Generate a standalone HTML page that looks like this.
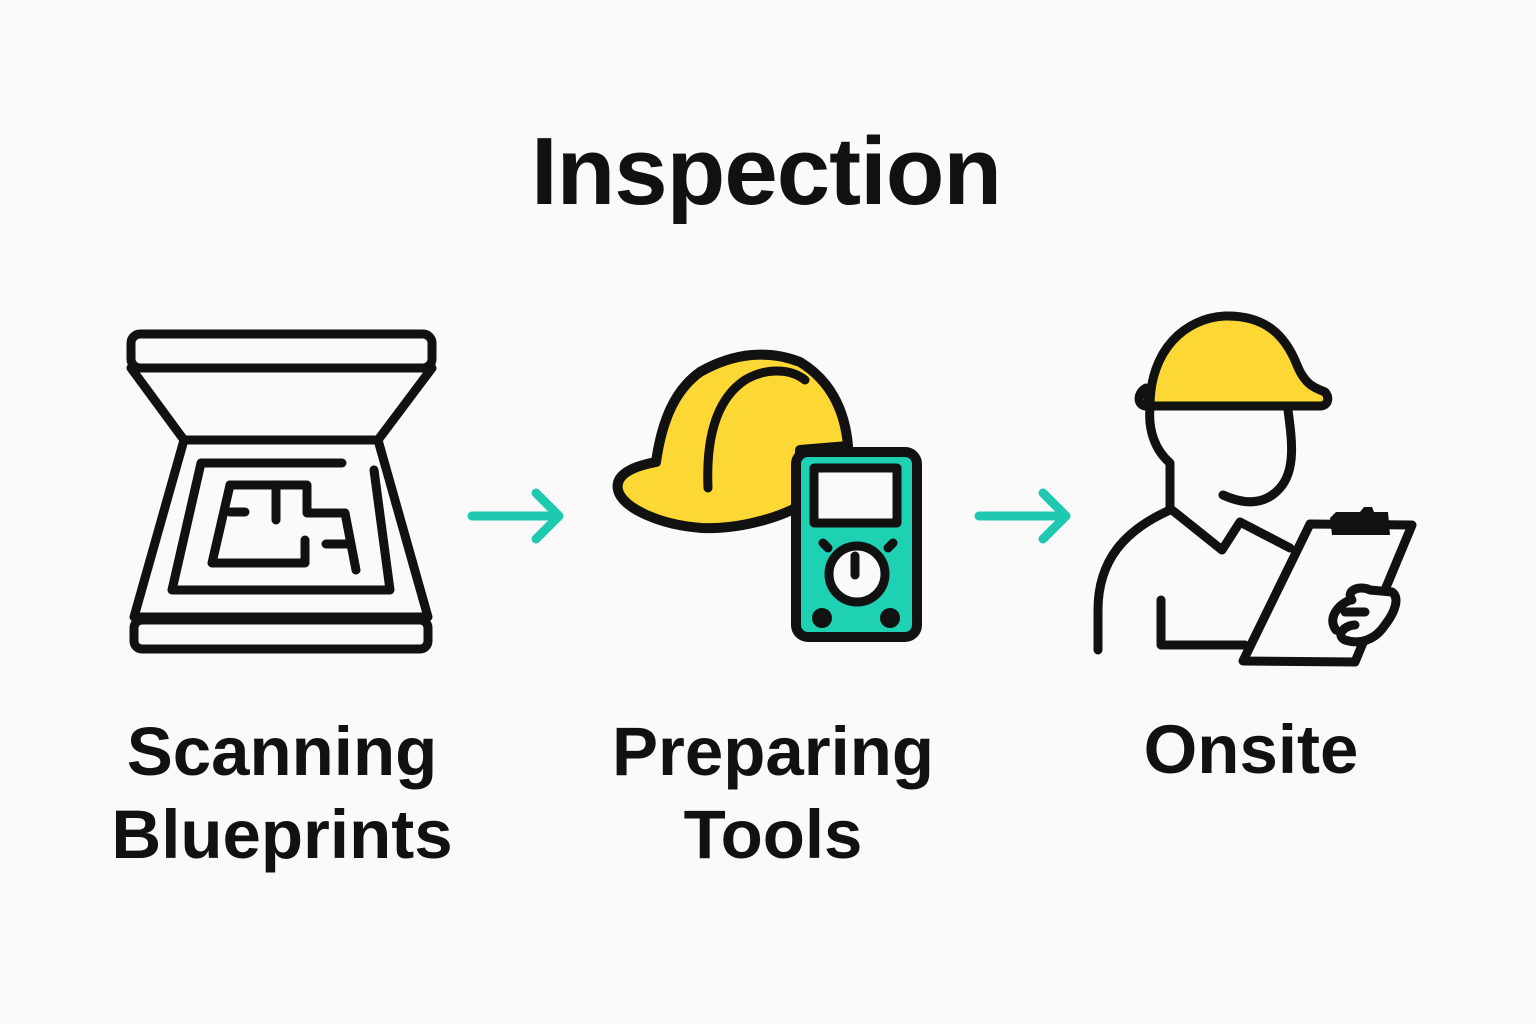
<!DOCTYPE html>
<html><head><meta charset="utf-8"><style>
html,body{margin:0;padding:0;background:#fafafa;}
svg{display:block}
text{font-family:"Liberation Sans",sans-serif;font-weight:bold;fill:#111;}
</style></head><body>
<svg width="1536" height="1024" viewBox="0 0 1536 1024" xmlns="http://www.w3.org/2000/svg">
<rect width="1536" height="1024" fill="#fafafa"/>
<text x="766" y="204" font-size="96" text-anchor="middle" letter-spacing="-1">Inspection</text>

<g fill="none" stroke="#111" stroke-width="9" stroke-linejoin="round" stroke-linecap="round">
 <!-- scanner -->
 <rect x="131" y="334" width="301" height="34" rx="9"/>
 <path d="M131 368 L184 440 L378 440 L432 368"/>
 <path d="M184 440 L134 617 L428 617 L378 440"/>
 <rect x="134" y="620" width="294" height="29" rx="8"/>
 <path d="M342 463 L201 463 L172 590 L390 590 L374 470"/>
 <path d="M230 485 L307 485 L307 513 L345 513 L356 570"/>
 <path d="M230 485 L212 563 L305 563 L305 540"/>
 <path d="M230 512 L245 512 M276 485 L276 520 M326 544 L348 544"/>
 <!-- arrows -->
 <g stroke="#1ec9b0" stroke-width="9">
  <path d="M472 516 L558 516 M536 493 L559 516 L536 539"/>
  <path d="M979 516 L1065 516 M1043 493 L1066 516 L1043 539"/>
 </g>
 <!-- hard hat -->
 <path d="M656 462 C640 465 614 472 618 490 C622 508 660 525 702 528 C745 530 790 513 800 505 L800 450 L848 446 C845 410 830 380 800 362 C770 350 735 352 700 372 C675 390 662 420 656 462 Z" fill="#fdd835" stroke-width="10"/>
 <path d="M708 488 C706 440 715 400 745 380 C765 368 790 368 805 380"/>
 <!-- meter -->
 <rect x="796" y="452" width="121" height="185" rx="12" fill="#1fd1b3" stroke-width="10"/>
 <rect x="814" y="468" width="83" height="55" fill="#fafafa"/>
 <circle cx="857" cy="574" r="28" fill="#fafafa"/>
 <path d="M855 556 L855 575"/>
 <path d="M823 543 L828 548 M893 543 L888 548"/>
</g>
<circle cx="822" cy="618" r="10" fill="#111"/>
<circle cx="890" cy="618" r="10" fill="#111"/>

<!-- worker -->
<g fill="none" stroke="#111" stroke-width="9" stroke-linejoin="round" stroke-linecap="round">
 <path d="M1150 406 C1150 350 1185 318 1225 316 C1265 315 1285 335 1297 365 C1305 385 1315 388 1325 392 C1330 398 1328 406 1320 406 L1145 406 C1136 404 1138 392 1146 388 Z" fill="#fdd835"/>
 <path d="M1150 408 C1148 430 1155 450 1170 463 L1170 508"/>
 <path d="M1288 410 C1292 440 1296 470 1280 488 C1265 505 1245 505 1223 495"/>
 <path d="M1170 510 C1125 530 1098 560 1098 610 L1098 650"/>
 <path d="M1172 510 L1222 550 L1240 522 L1290 548"/>
 <path d="M1161 600 L1161 645 L1245 645"/>
 <path d="M1310 524 L1412 525 L1355 662 L1243 661 Z" fill="#fafafa"/>
 <path d="M1336 630 C1325 615 1345 600 1352 600 C1345 590 1360 585 1370 590 L1392 592 C1400 598 1395 612 1385 625 C1375 640 1360 645 1345 640 C1335 635 1345 625 1355 625" fill="#fafafa"/>
 <path d="M1345 612 L1365 612"/>
</g>
<path d="M1330 518 L1336 512 L1360 512 L1364 507 L1372 507 L1374 512 L1388 512 L1390 535 L1332 535 Z" fill="#111"/>

<text x="282" y="775" font-size="69" text-anchor="middle">Scanning</text>
<text x="282" y="858" font-size="69" text-anchor="middle">Blueprints</text>
<text x="773" y="775" font-size="69" text-anchor="middle">Preparing</text>
<text x="773" y="858" font-size="69" text-anchor="middle">Tools</text>
<text x="1251" y="773" font-size="69" text-anchor="middle">Onsite</text>
</svg>
</body></html>
